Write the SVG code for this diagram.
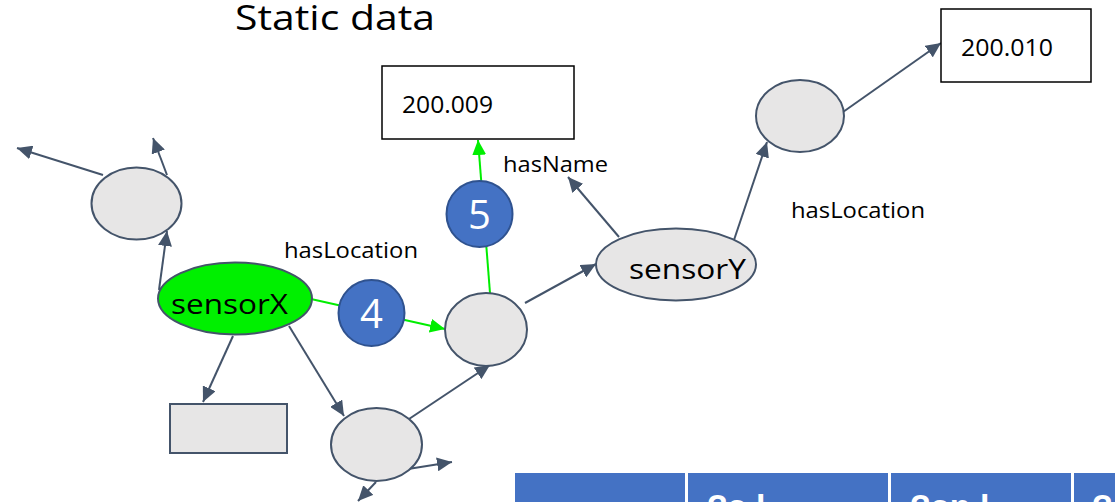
<svg xmlns="http://www.w3.org/2000/svg" width="1115" height="502" viewBox="0 0 1115 502">
  <defs>
    <marker id="arrow" markerUnits="userSpaceOnUse" markerWidth="16" markerHeight="14" refX="15" refY="7" orient="auto">
      <path d="M0,0 L15,7 L0,14 Z" fill="#44546A"/>
    </marker>
    <marker id="arrowGreen" markerUnits="userSpaceOnUse" markerWidth="16" markerHeight="14" refX="15" refY="7" orient="auto">
      <path d="M0,0 L15,7 L0,14 Z" fill="#00EE00"/>
    </marker>
  </defs>
  <style>
    .txt { font-family: "Open Sans", "Liberation Sans", sans-serif; fill: #000; }
    .blank { fill: #E7E6E6; stroke: #44546A; stroke-width: 2; }
    .lit { fill: #FFFFFF; stroke: #000000; stroke-width: 1.5; }
    .step { fill: #4472C4; stroke: #2F528F; stroke-width: 2; }
    .stepnum { font-family: "Open Sans", "Liberation Sans", sans-serif; fill: #FFFFFF; font-size: 40px; text-anchor: middle; }
    .edge { fill: none; stroke: #44546A; stroke-width: 2; marker-end: url(#arrow); }
    .edge-plain { fill: none; stroke: #44546A; stroke-width: 2; }
    .edge-green { fill: none; stroke: #00EE00; stroke-width: 2; marker-end: url(#arrowGreen); }
    .hdr { fill: #4472C4; }
    .hdrtxt { font-family: "Liberation Sans", sans-serif; font-weight: bold; font-size: 34px; fill: #FFFFFF; }
  </style>

  <text class="txt" x="235" y="30" font-size="35" textLength="200" lengthAdjust="spacingAndGlyphs">Static data</text>

  <!-- connectors -->
  <g id="connectors">
    <line class="edge" x1="103" y1="175" x2="17" y2="148"/>
    <line class="edge" x1="167" y1="175" x2="153" y2="138"/>
    <line class="edge" x1="159" y1="290" x2="167" y2="231"/>
    <line class="edge-green" x1="311" y1="299" x2="445" y2="329"/>
    <line class="edge-green" x1="490" y1="293" x2="478" y2="140"/>
    <line class="edge" x1="233" y1="336" x2="203" y2="402"/>
    <line class="edge" x1="289" y1="326" x2="344" y2="416"/>
    <line class="edge" x1="409" y1="419" x2="490" y2="365"/>
    <line class="edge" x1="408" y1="469" x2="452" y2="462"/>
    <line class="edge" x1="376" y1="482" x2="358" y2="501"/>
    <line class="edge" x1="525" y1="303" x2="596" y2="264"/>
    <line class="edge" x1="619" y1="237" x2="568" y2="177"/>
    <line class="edge" x1="734" y1="240" x2="767" y2="142"/>
    <line class="edge" x1="843" y1="112" x2="941" y2="43"/>
  </g>

  <g id="node-blank-tl">
    <ellipse class="blank" cx="136.5" cy="203.5" rx="45" ry="36"/>
  </g>

  <g id="node-sensorX">
    <ellipse cx="235" cy="298.5" rx="77" ry="36" fill="#00F000" stroke="#44546A" stroke-width="2"/>
    <text class="txt" x="171" y="314" font-size="28" textLength="117" lengthAdjust="spacingAndGlyphs">sensorX</text>
  </g>

  <g id="node-blank-rect">
    <rect class="blank" x="170" y="404" width="117" height="49"/>
  </g>

  <g id="node-blank-bottom">
    <ellipse class="blank" cx="376.5" cy="444.5" rx="45.5" ry="36.5"/>
  </g>

  <g id="node-blank-mid">
    <ellipse class="blank" cx="486" cy="329.5" rx="41" ry="36.5"/>
  </g>

  <g id="node-sensorY">
    <ellipse class="blank" cx="676" cy="264.5" rx="80" ry="36"/>
    <text class="txt" x="629" y="279" font-size="28" textLength="117" lengthAdjust="spacingAndGlyphs">sensorY</text>
  </g>

  <g id="node-blank-tr">
    <ellipse class="blank" cx="800" cy="116" rx="44" ry="36"/>
  </g>

  <g id="node-200-009">
    <rect class="lit" x="382" y="66" width="192" height="73"/>
    <text class="txt" x="402" y="113" font-size="23" textLength="91" lengthAdjust="spacingAndGlyphs">200.009</text>
  </g>

  <g id="node-200-010">
    <rect class="lit" x="941" y="9" width="150" height="73"/>
    <text class="txt" x="961" y="56" font-size="23" textLength="92" lengthAdjust="spacingAndGlyphs">200.010</text>
  </g>

  <g id="labels">
    <text class="txt" x="284" y="258" font-size="21" textLength="134" lengthAdjust="spacingAndGlyphs">hasLocation</text>
    <text class="txt" x="503" y="172" font-size="21" textLength="105" lengthAdjust="spacingAndGlyphs">hasName</text>
    <text class="txt" x="791" y="218" font-size="21" textLength="134" lengthAdjust="spacingAndGlyphs">hasLocation</text>
  </g>

  <g id="step-4">
    <circle class="step" cx="371.5" cy="313" r="33"/>
    <text class="stepnum" x="371.5" y="328">4</text>
  </g>

  <g id="step-5">
    <circle class="step" cx="479.5" cy="214" r="33"/>
    <text class="stepnum" x="479.5" y="229">5</text>
  </g>

  <!-- result table header -->
  <g id="table-header">
    <rect class="hdr" x="515" y="473" width="170" height="40"/>
    <rect class="hdr" x="688" y="473" width="200" height="40"/>
    <rect class="hdr" x="891" y="473" width="180" height="40"/>
    <rect class="hdr" x="1074" y="473" width="50" height="40"/>
    <text class="hdrtxt" x="707" y="518">?a l</text>
    <text class="hdrtxt" x="910" y="518">?an l</text>
    <text class="hdrtxt" x="1092" y="518">?</text>
  </g>
</svg>
